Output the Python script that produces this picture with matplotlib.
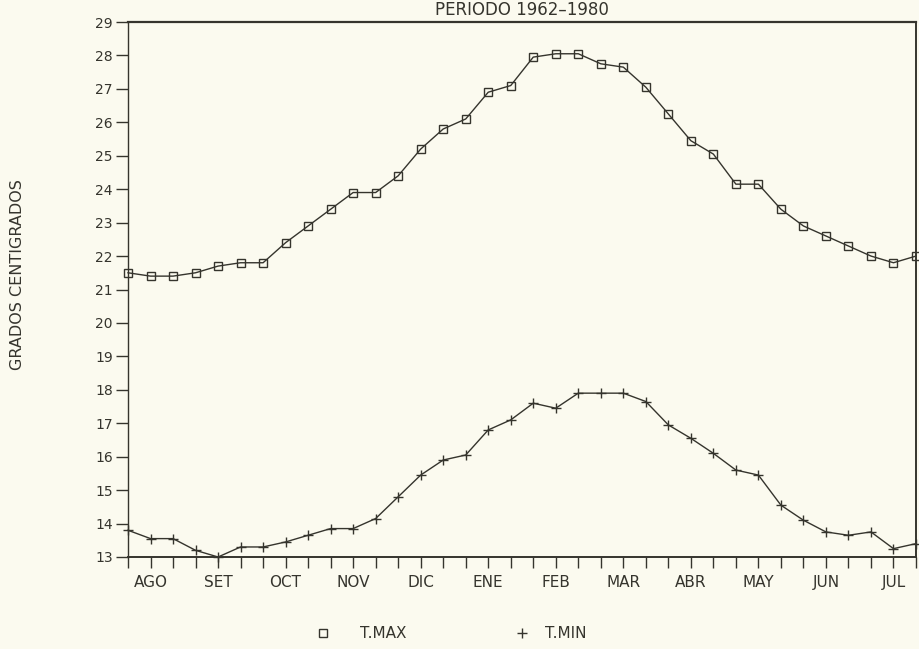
import matplotlib
matplotlib.use("Agg")
import matplotlib.pyplot as plt
from matplotlib.lines import Line2D

months = ["AGO", "SET", "OCT", "NOV", "DIC", "ENE", "FEB", "MAR", "ABR", "MAY", "JUN", "JUL"]
decades_per_month = 3

t_max = [21.5, 21.4, 21.4, 21.5, 21.7, 21.8, 21.8, 22.4, 22.9, 23.4, 23.9, 23.9,
         24.4, 25.2, 25.8, 26.1, 26.9, 27.1, 27.95, 28.05, 28.05, 27.75, 27.65, 27.05,
         26.25, 25.45, 25.05, 24.15, 24.15, 23.4, 22.9, 22.6, 22.3, 22.0, 21.8, 22.0]
t_min = [13.8, 13.55, 13.55, 13.2, 13.0, 13.3, 13.3, 13.45, 13.65, 13.85, 13.85, 14.15,
         14.8, 15.45, 15.9, 16.05, 16.8, 17.1, 17.6, 17.45, 17.9, 17.9, 17.9, 17.65,
         16.95, 16.55, 16.1, 15.6, 15.45, 14.55, 14.1, 13.75, 13.65, 13.75, 13.25, 13.4]

y_ticks = list(range(13, 30))
title = "PERIODO 1962\u20131980"
y_label = "GRADOS CENTIGRADOS"
legend_labels = ["T.MAX", "T.MIN"]

bg = "#fbfaef"
ink = "#35342d"

plt.rcParams['font.family'] = ['DejaVu Sans']
fig = plt.figure(figsize=(9.19, 6.49), dpi=100, facecolor=bg)
W, H = 919, 649
left, right, top, bottom = 128, 916, 22, 557
ax = fig.add_axes([left / W, 1 - bottom / H, (right - left) / W, (bottom - top) / H])
ax.set_facecolor(bg)

x = list(range(len(t_max)))
ax.plot(x, t_max, color=ink, lw=1.0, marker="s", markersize=6,
        markerfacecolor="none", markeredgecolor=ink, markeredgewidth=1.0, clip_on=False)
ax.plot(x, t_min, color=ink, lw=1.0, marker="+", markersize=7,
        markeredgecolor=ink, markeredgewidth=1.0, clip_on=False)

ax.set_xlim(0, len(t_max) - 1)
ax.set_ylim(13, 29)
ax.set_yticks(y_ticks)
ax.set_yticklabels([str(v) for v in y_ticks], fontsize=10, color=ink)
ax.set_xticks(x)
ax.set_xticklabels([])
for i, m in enumerate(months):
    ax.text(i * decades_per_month + 1, -0.033, m, transform=ax.get_xaxis_transform(),
            ha="center", va="top", fontsize=11, color=ink)

ax.tick_params(axis="y", direction="out", length=9, width=1.0, color=ink, pad=2)
ax.tick_params(axis="x", direction="out", length=8, width=1.0, color=ink)
for s in ax.spines.values():
    s.set_color(ink)
ax.spines["top"].set_linewidth(1.6)
ax.spines["bottom"].set_linewidth(1.4)
ax.spines["left"].set_linewidth(1.0)
ax.spines["right"].set_linewidth(1.4)

ax.set_title(title, fontsize=12, color=ink, pad=5)
fig.text(18 / W, 1 - 275 / H, y_label, rotation=90, ha="center", va="center",
         fontsize=11.5, color=ink)

leg_y = 1 - 633 / H
fig.add_artist(Line2D([323 / W], [leg_y], transform=fig.transFigure, ls="none", marker="s",
                      markersize=6, markerfacecolor="none", markeredgecolor=ink,
                      markeredgewidth=1.0))
fig.add_artist(Line2D([522 / W], [leg_y], transform=fig.transFigure, ls="none", marker="+",
                      markersize=7, markeredgecolor=ink, markeredgewidth=1.0))
fig.text(360 / W, leg_y, legend_labels[0], ha="left", va="center", fontsize=11, color=ink)
fig.text(545 / W, leg_y, legend_labels[1], ha="left", va="center", fontsize=11, color=ink)

fig.savefig("out.png", dpi=100, facecolor=bg)
